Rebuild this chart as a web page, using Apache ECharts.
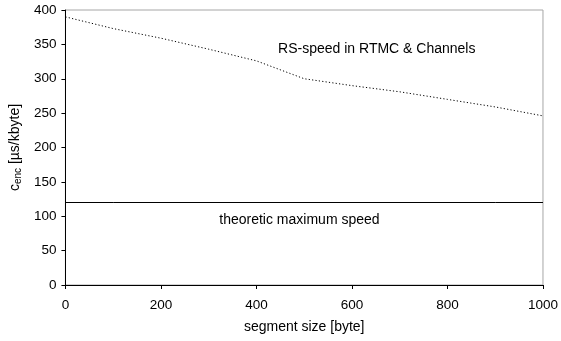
<!DOCTYPE html>
<html>
<head>
<meta charset="utf-8">
<script src="https://cdn.jsdelivr.net/npm/echarts@6/dist/echarts.min.js"></script>
<style>
  html, body { margin: 0; padding: 0; background: #fff; }
  #chart { width: 561px; height: 341px; }
</style>
</head>
<body>
<div id="chart"></div>
<script>
// segment sizes [byte]
const segmentSizes = [0, 100, 200, 300, 400, 500, 600, 700, 800, 900, 1000]
// measured encoder cost [us/kbyte]
const rsSpeed = [390, 373, 359, 343, 326, 300, 290, 281, 270, 259, 246]
// theoretic limit
const maxSpeedX = [0, 100, 900, 1000]
const maxSpeedY = [120, 120, 120, 120]
const yTicks = [0, 50, 100, 150, 200, 250, 300, 350, 400]
const xTicks = [0, 200, 400, 600, 800, 1000]
// annotation texts and where they sit (data coords)
const noteTexts = ['RS-speed in RTMC & Channels', 'theoretic maximum speed']
const noteX = [652, 490]
const noteY = [343, 94]

const font = 'Liberation Sans, Arial, sans-serif'
const chart = echarts.init(document.getElementById('chart'))

const option = {
  animation: false,
  textStyle: { fontFamily: font },
  grid: {
    left: 63.5,
    right: 15.5,
    top: 10,
    bottom: 56,
    show: true,
    borderColor: '#a6a6a6',
    borderWidth: 1
  },
  xAxis: {
    type: 'value',
    min: xTicks[0],
    max: xTicks[xTicks.length - 1],
    interval: 200,
    name: 'segment size [byte]',
    nameLocation: 'middle',
    nameGap: 35,
    nameTextStyle: { color: '#000', fontSize: 14, fontFamily: font },
    axisLine: { lineStyle: { color: '#000', width: 1 } },
    axisTick: { show: true, length: 4, inside: false, lineStyle: { color: '#000' } },
    axisLabel: { color: '#000', fontSize: 13.5, margin: 13, fontFamily: font, formatter: v => String(v) },
    splitLine: { show: false }
  },
  yAxis: {
    type: 'value',
    min: yTicks[0],
    max: yTicks[yTicks.length - 1],
    interval: 50,
    name: '{a|c}{b|enc}{a| [µs/kbyte]}',
    nameLocation: 'middle',
    nameGap: 40,
    nameRotate: 90,
    nameTextStyle: {
      rich: {
        a: { fontSize: 14, color: '#000', fontFamily: font, lineHeight: 16 },
        b: { fontSize: 10, color: '#000', fontFamily: font, lineHeight: 16, verticalAlign: 'bottom', padding: [5, 0, 0, 0] }
      }
    },
    axisLine: { show: true, lineStyle: { color: '#000', width: 1 } },
    axisTick: { show: true, length: 4, inside: false, lineStyle: { color: '#000' } },
    axisLabel: { color: '#000', fontSize: 13.5, margin: 9, fontFamily: font },
    splitLine: { show: false }
  },
  series: [
    {
      type: 'line',
      data: segmentSizes.map((x, i) => [x, rsSpeed[i]]),
      symbol: 'none',
      lineStyle: { color: '#000', width: 1, type: [1.2, 2.2] }
    },
    {
      type: 'line',
      data: maxSpeedX.map((x, i) => [x, maxSpeedY[i]]),
      symbol: 'none',
      lineStyle: { color: '#000', width: 1 }
    },
    {
      type: 'scatter',
      data: noteTexts.map((t, i) => ({ value: [noteX[i], noteY[i]], name: t })),
      symbolSize: 1,
      itemStyle: { color: 'transparent' },
      label: {
        show: true,
        position: 'inside',
        color: '#000',
        opacity: 1,
        textBorderWidth: 0,
        fontSize: 14,
        fontFamily: font,
        formatter: p => p.name
      },
      silent: true
    }
  ]
}
chart.setOption(option)
</script>
</body>
</html>
